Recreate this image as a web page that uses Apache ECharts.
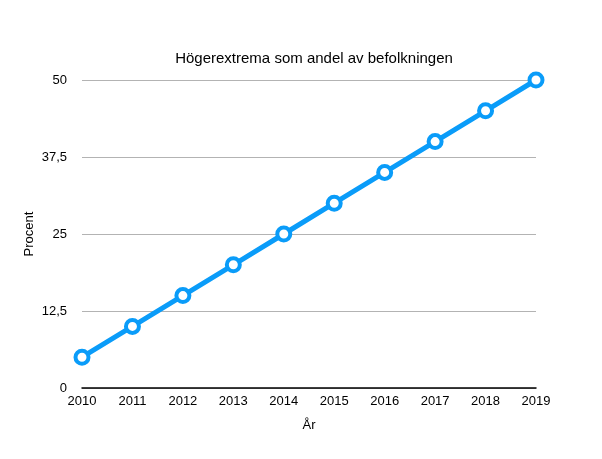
<!DOCTYPE html>
<html><head><meta charset="utf-8">
<script src="https://cdn.jsdelivr.net/npm/echarts@6/dist/echarts.min.js"></script>
<style>html,body{margin:0;padding:0;background:#fff}#c{width:602px;height:459px}</style>
</head><body><div id="c"></div>
<script>
const years = ['2010','2011','2012','2013','2014','2015','2016','2017','2018','2019'];
const values = [5,10,15,20,25,30,35,40,45,50];
const yTicks = [0,12.5,25,37.5,50];
const font = '"Liberation Sans", Arial, Helvetica, sans-serif';
const chart = echarts.init(document.getElementById('c'), null, {renderer:'canvas'});
chart.setOption({
  animation:false,
  backgroundColor:'#fff',
  title:{text:'Högerextrema som andel av befolkningen',left:309,top:46,textAlign:'center',
    textStyle:{fontFamily:font,fontSize:15,fontWeight:'normal',color:'#000'}},
  grid:{left:82,right:66,top:80,bottom:71},
  xAxis:{type:'category',data:years,boundaryGap:false,name:'År',nameLocation:'middle',nameGap:31,
    nameTextStyle:{fontFamily:font,fontSize:13,color:'#000'},
    axisLine:{lineStyle:{color:'#000',width:1.5}},axisTick:{show:false},
    axisLabel:{fontFamily:font,fontSize:13,color:'#000',margin:7}},
  yAxis:{type:'value',min:0,max:50,interval:12.5,name:'Procent',nameLocation:'middle',nameGap:46,
    nameMoveOverlap:false,
    nameTextStyle:{fontFamily:font,fontSize:13,color:'#000'},
    axisLine:{show:false},axisTick:{show:false},
    axisLabel:{fontFamily:font,fontSize:13,color:'#000',margin:15,
      formatter:v=>String(v).replace('.',',')},
    splitLine:{lineStyle:{color:'#b3b3b3',width:1}}},
  series:[{type:'line',data:values,symbol:'circle',symbolSize:13,showSymbol:true,
    lineStyle:{color:'#0a9cf9',width:5},
    itemStyle:{color:'#fff',borderColor:'#0a9cf9',borderWidth:4}}]
});
</script></body></html>
